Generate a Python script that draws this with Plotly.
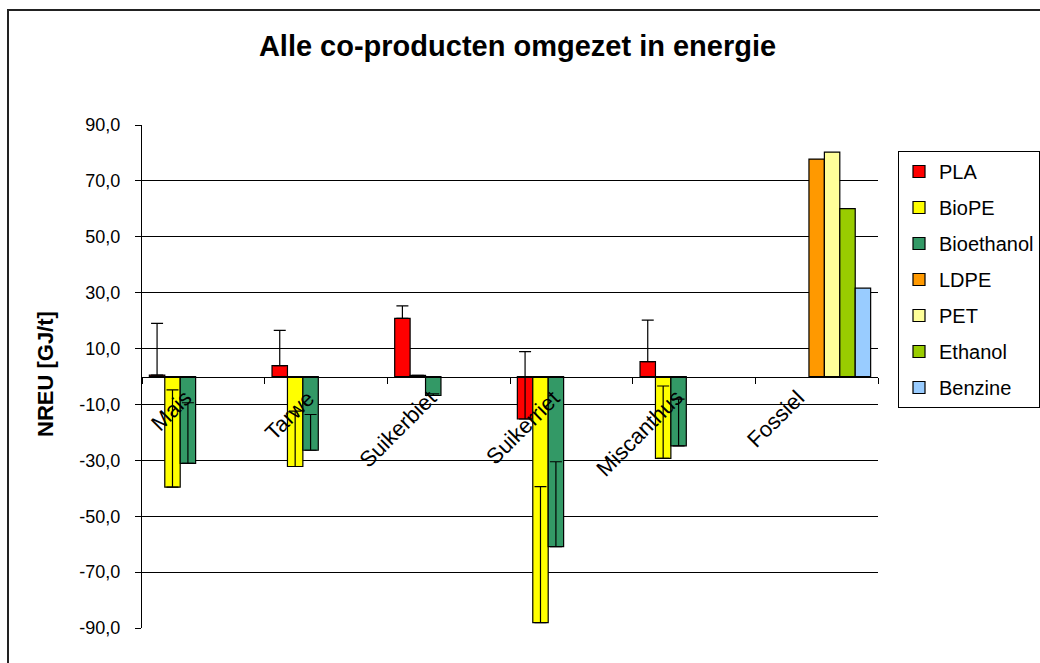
import plotly.graph_objects as go

categories = ["Mais", "Tarwe", "Suikerbiet", "Suikerriet", "Miscanthus", "Fossiel"]

pla = [0.5, 3.9, 20.8, -15.2, 5.3, None]
pla_err = [18.5, 12.6, 4.5, 24.1, 14.9, 0]
biope = [-39.6, -32.2, 0.4, -88.1, -29.3, None]
biope_err = [34.8, 19.8, 0.0, 48.7, 25.9, 0]
bioethanol = [-31.1, -26.4, -6.8, -60.9, -24.8, None]
bioethanol_err = [21.7, 12.8, 0.6, 30.4, 16.7, 0]
ldpe = [None, None, None, None, None, 77.8]
pet = [None, None, None, None, None, 80.3]
ethanol = [None, None, None, None, None, 60.1]
benzine = [None, None, None, None, None, 31.6]

y_tick_values = [-90, -70, -50, -30, -10, 10, 30, 50, 70, 90]
y_tick_labels = ["-90,0", "-70,0", "-50,0", "-30,0", "-10,0", "10,0", "30,0", "50,0", "70,0", "90,0"]

title_text = "Alle co-producten omgezet in energie"
y_title = "NREU [GJ/t]"

FONT = "Liberation Sans, Arial, sans-serif"

W, H = 1040, 663
L, R, T, B = 142, 878, 125, 628

series = [
    ("PLA", pla, pla_err, "#FF0000"),
    ("BioPE", biope, biope_err, "#FFFF00"),
    ("Bioethanol", bioethanol, bioethanol_err, "#339966"),
    ("LDPE", ldpe, None, "#FF9900"),
    ("PET", pet, None, "#FFFF99"),
    ("Ethanol", ethanol, None, "#99CC00"),
    ("Benzine", benzine, None, "#99CCFF"),
]

fig = go.Figure()
for name, vals, err, color in series:
    kw = {}
    if err is not None:
        kw["error_y"] = dict(type="data", symmetric=False, array=err,
                             arrayminus=[0] * len(err), color="#000000",
                             thickness=1.2, width=6)
    fig.add_trace(go.Bar(
        name=name, x=categories, y=vals,
        marker=dict(color=color, line=dict(color="#000000", width=1.2)),
        legendgroup=name, **kw))

def px_x(p):
    return (p - L) / (R - L)

def px_y(p):
    return (B - p) / (B - T)

fig.update_layout(
    width=W, height=H,
    margin=dict(l=L, r=W - R, t=T, b=H - B, autoexpand=False),
    paper_bgcolor="white", plot_bgcolor="white",
    barmode="group", bargap=0.12, bargroupgap=0,
    font=dict(family=FONT, color="#000000", size=18),
    title=dict(text="<b>" + title_text + "</b>", x=517.5 / W, xanchor="center",
               y=1 - 46 / H, yanchor="middle", font=dict(size=29, family=FONT)),
    xaxis=dict(type="category", anchor="free", position=0.5,
               showline=True, linecolor="#000000", linewidth=1.2,
               ticks="outside", tickson="boundaries", ticklen=6, tickcolor="#000000",
               showticklabels=False, showgrid=False),
    yaxis=dict(range=[-90, 90], tickvals=y_tick_values, ticktext=y_tick_labels,
               showline=True, linecolor="#000000", linewidth=1.2,
               ticks="outside", ticklen=6, tickcolor="#000000",
               showgrid=True, gridcolor="#000000", gridwidth=1,
               zeroline=False, tickfont=dict(size=18), ticklabelstandoff=11),
    legend=dict(x=px_x(898), y=px_y(151), xanchor="left", yanchor="top",
                bordercolor="#000000", borderwidth=1, bgcolor="white",
                font=dict(size=20, family=FONT), traceorder="grouped",
                tracegroupgap=7, itemwidth=30),
    showlegend=True,
)

# category labels, placed at the zero line like the original axis labels
for cat in categories:
    fig.add_annotation(text=cat, x=cat, y=0, xref="x", yref="y",
                       textangle=-45, showarrow=False,
                       xanchor="right", yanchor="top", xshift=-4, yshift=-6,
                       font=dict(size=22, family=FONT, color="#000000"))

fig.add_annotation(text="<b>" + y_title + "</b>", xref="paper", yref="paper",
                   x=px_x(45), y=px_y(374), textangle=-90, showarrow=False,
                   font=dict(size=22, family=FONT), xanchor="center", yanchor="middle")

fig.add_shape(type="rect", xref="paper", yref="paper",
              x0=px_x(8), x1=px_x(1060), y0=px_y(10), y1=px_y(690),
              line=dict(color="#222222", width=2), layer="below")

fig.write_html("out.html", config={"displayModeBar": False},
               post_script="document.body.style.margin='0';")
